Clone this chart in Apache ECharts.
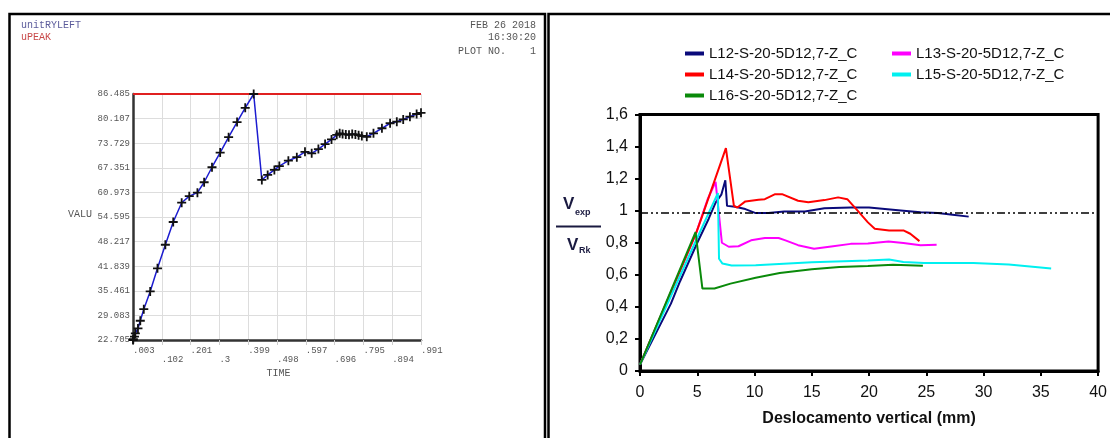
<!DOCTYPE html>
<html>
<head>
<meta charset="utf-8">
<script src="https://cdn.jsdelivr.net/npm/echarts@6/dist/echarts.min.js"></script>
<style>
  html, body { margin: 0; padding: 0; background: #fff; }
  #chart { width: 1110px; height: 438px; }
</style>
</head>
<body>
<div id="chart"></div>
<script>
// ---- left panel (ANSYS time history) ----
var timeTicks = ['.003', '.102', '.201', '.3', '.399', '.498', '.597', '.696', '.795', '.894', '.991'];
var valuTicks = ['22.705', '29.083', '35.461', '41.839', '48.217', '54.595', '60.973', '67.351', '73.729', '80.107', '86.485'];
var ryTime = [0.003, 0.004, 0.008, 0.011, 0.020, 0.028, 0.040, 0.062, 0.087, 0.114, 0.141, 0.170, 0.196, 0.224,
  0.247, 0.274, 0.302, 0.331, 0.360, 0.388, 0.417, 0.445, 0.465, 0.488, 0.505, 0.536, 0.565, 0.593, 0.616,
  0.639, 0.662, 0.684, 0.702, 0.712, 0.722, 0.733, 0.744, 0.755, 0.766, 0.777, 0.788, 0.805, 0.828, 0.857,
  0.885, 0.908, 0.930, 0.953, 0.976, 0.991];
var ryValu = [22.705, 22.9, 23.6, 24.4, 25.7, 27.7, 30.7, 35.3, 41.3, 47.4, 53.3, 58.3, 60.0, 60.9,
  63.6, 67.5, 71.3, 75.3, 79.2, 82.9, 86.485, 64.2, 65.5, 66.8, 67.8, 69.2, 70.1, 71.5, 71.1,
  72.2, 73.5, 74.7, 75.9, 76.3, 76.1, 76.0, 75.9, 76.1, 76.0, 75.8, 75.6, 75.4, 76.3, 77.6,
  78.9, 79.3, 79.9, 80.6, 81.3, 81.6];
var peakTime = [0.003, 0.991];
var peakValu = [86.485, 86.485];

// ---- right panel (V_exp / V_Rk vs displacement) ----
var names = ['L12-S-20-5D12,7-Z_C', 'L13-S-20-5D12,7-Z_C', 'L14-S-20-5D12,7-Z_C', 'L15-S-20-5D12,7-Z_C', 'L16-S-20-5D12,7-Z_C'];
var l12 = [[0, 0.04], [2.7, 0.42], [3.5, 0.56], [5, 0.8], [6.0, 0.95], [6.6, 1.05], [7.1, 1.1], [7.45, 1.19], [7.6, 1.03],
  [8.3, 1.025], [9.2, 1.01], [10.1, 0.985], [11.2, 0.985], [12.6, 0.995], [14.4, 0.995], [16.1, 1.015], [18.4, 1.02],
  [20, 1.02], [23, 1.0], [24.5, 0.99], [26, 0.985], [27.3, 0.975], [28.7, 0.963]];
var l13 = [[0, 0.04], [4.9, 0.86], [5.9, 1.07], [6.6, 1.18], [7.15, 0.8], [7.75, 0.775], [8.6, 0.778], [9.7, 0.815],
  [10.9, 0.83], [12.1, 0.83], [12.7, 0.815], [13.8, 0.785], [15.2, 0.763], [16.7, 0.777], [18.4, 0.793], [19.9, 0.795],
  [21.7, 0.808], [23, 0.798], [24.5, 0.785], [25.9, 0.788]];
var l14 = [[0, 0.04], [4.9, 0.86], [5.4, 0.96], [7.5, 1.39], [8.2, 1.03], [8.5, 1.02], [9.2, 1.058], [10.35, 1.068],
  [10.9, 1.072], [11.8, 1.103], [12.4, 1.103], [13.8, 1.062], [14.7, 1.052], [16.1, 1.066], [17.3, 1.083], [18.1, 1.072],
  [19, 1.0], [19.9, 0.927], [20.5, 0.887], [21.75, 0.877], [23, 0.877], [23.6, 0.856], [24.4, 0.81]];
var l15 = [[0, 0.04], [4.8, 0.8], [6.8, 1.11], [6.9, 0.70], [7.2, 0.67], [8, 0.658], [10.1, 0.659], [15, 0.678],
  [19.9, 0.689], [21.75, 0.695], [23, 0.68], [24.8, 0.674], [29.1, 0.674], [32.2, 0.665], [35.9, 0.64]];
var l16 = [[0, 0.04], [4.85, 0.866], [5.45, 0.514], [6.5, 0.515], [7.9, 0.545], [10.1, 0.582], [12.2, 0.611],
  [15, 0.634], [17.4, 0.649], [19.9, 0.655], [22.1, 0.663], [24.7, 0.657]];
var refLevel = 0.99;

var colors = ['#0a0a7a', '#ff00ff', '#ff0000', '#00f0f0', '#0a8a0a'];
var mono = "'Liberation Mono', 'DejaVu Sans Mono', monospace";
var sans = "'Liberation Sans', Arial, sans-serif";
var plus = 'path://M4,0h2v4h4v2h-4v4h-2v-4h-4v-2h4z';

function pairs(xs, ys) {
  return xs.map(function (x, i) { return [x, ys[i]]; });
}

var myChart = echarts.init(document.getElementById('chart'));

var legendText = { fontFamily: sans, fontSize: 15, lineHeight: 15, color: '#111' };

var option = {
  animation: false,
  backgroundColor: '#fff',
  grid: [
    { left: 133, top: 94, width: 288, height: 246 },
    { left: 640, top: 114.5, width: 465, height: 256.5, show: true, borderColor: '#000', borderWidth: 3, backgroundColor: 'transparent' }
  ],
  legend: [
    {
      data: [names[0], names[2], names[4]], orient: 'vertical', left: 680, top: 41,
      icon: 'rect', itemWidth: 19, itemHeight: 4, itemGap: 6, textStyle: legendText
    },
    {
      data: [names[1], names[3]], orient: 'vertical', left: 887, top: 41,
      icon: 'rect', itemWidth: 19, itemHeight: 4, itemGap: 6, textStyle: legendText
    }
  ],
  xAxis: [
    {
      gridIndex: 0, type: 'value', min: 0.003, max: 0.991, interval: 0.0988,
      axisLine: { lineStyle: { color: '#333', width: 2.5 } },
      axisTick: { show: true, length: 5, lineStyle: { color: '#ccc' } },
      splitLine: { show: true, lineStyle: { color: '#ddd', width: 1 } },
      axisLabel: {
        align: 'left', margin: 6, fontFamily: mono, fontSize: 9, color: '#555', lineHeight: 9,
        formatter: function (v) {
          var i = Math.round((v - 0.003) / 0.0988);
          return i % 2 === 0 ? timeTicks[i] : '\n' + timeTicks[i];
        }
      }
    },
    {
      gridIndex: 1, type: 'value', min: 0, max: 40, interval: 5,
      name: 'Deslocamento vertical (mm)', nameLocation: 'middle', nameGap: 40,
      nameTextStyle: { fontFamily: sans, fontSize: 16, fontWeight: 'bold', color: '#111' },
      axisLine: { lineStyle: { color: '#000', width: 3 } },
      axisTick: { show: true, length: 5, lineStyle: { color: '#000', width: 2 } },
      splitLine: { show: false },
      axisLabel: { margin: 14, fontFamily: sans, fontSize: 16, color: '#111' }
    }
  ],
  yAxis: [
    {
      gridIndex: 0, type: 'value', min: 22.705, max: 86.485, interval: 6.378,
      axisLine: { show: true, lineStyle: { color: '#333', width: 2.5 } },
      axisTick: { show: false },
      splitLine: { show: true, lineStyle: { color: '#ddd', width: 1 } },
      axisLabel: {
        margin: 3, fontFamily: mono, fontSize: 9, color: '#555',
        formatter: function (v) {
          return valuTicks[Math.round((v - 22.705) / 6.378)];
        }
      }
    },
    {
      gridIndex: 1, type: 'value', min: 0, max: 1.6, interval: 0.2,
      axisLine: { show: true, lineStyle: { color: '#000', width: 3 } },
      axisTick: { show: true, length: 5, lineStyle: { color: '#000', width: 2 } },
      splitLine: { show: false },
      axisLabel: {
        margin: 12, fontFamily: sans, fontSize: 16, color: '#111',
        formatter: function (v) { return String(Math.round(v * 10) / 10).replace('.', ','); }
      }
    }
  ],
  graphic: [
    // panel frames
    { type: 'rect', shape: { x: 9.5, y: 14, width: 535.5, height: 440 }, style: { fill: 'none', stroke: '#000', lineWidth: 2.5 }, z: 100 },
    { type: 'rect', shape: { x: 548.5, y: 14, width: 580, height: 440 }, style: { fill: 'none', stroke: '#000', lineWidth: 2.5 }, z: 100 },
    // ANSYS header
    { type: 'text', x: 21, y: 25, style: { text: 'unitRYLEFT', font: '10px ' + mono, fill: '#5b5b9b', verticalAlign: 'middle' } },
    { type: 'text', x: 21, y: 37.5, style: { text: 'uPEAK', font: '10px ' + mono, fill: '#c84848', verticalAlign: 'middle' } },
    { type: 'text', x: 536, y: 25, style: { text: 'FEB 26 2018', font: '10px ' + mono, fill: '#555', align: 'right', verticalAlign: 'middle' } },
    { type: 'text', x: 536, y: 37.5, style: { text: '16:30:20', font: '10px ' + mono, fill: '#555', align: 'right', verticalAlign: 'middle' } },
    { type: 'text', x: 536, y: 51.5, style: { text: 'PLOT NO.    1', font: '10px ' + mono, fill: '#555', align: 'right', verticalAlign: 'middle' } },
    { type: 'text', x: 80, y: 214, style: { text: 'VALU', font: '10px ' + mono, fill: '#555', align: 'center', verticalAlign: 'middle' } },
    { type: 'text', x: 278.5, y: 373, style: { text: 'TIME', font: '10px ' + mono, fill: '#555', align: 'center', verticalAlign: 'middle' } },
    // V_exp / V_Rk
    { type: 'text', x: 563, y: 204, style: { text: 'V', font: 'bold 17px ' + sans, fill: '#1a1a40', verticalAlign: 'middle' } },
    { type: 'text', x: 575, y: 213, style: { text: 'exp', font: 'bold 9px ' + sans, fill: '#1a1a40', verticalAlign: 'middle' } },
    { type: 'line', shape: { x1: 556, y1: 226.5, x2: 601, y2: 226.5 }, style: { stroke: '#1a1a40', lineWidth: 2 } },
    { type: 'text', x: 567, y: 245, style: { text: 'V', font: 'bold 17px ' + sans, fill: '#1a1a40', verticalAlign: 'middle' } },
    { type: 'text', x: 579, y: 251, style: { text: 'Rk', font: 'bold 9px ' + sans, fill: '#1a1a40', verticalAlign: 'middle' } }
  ],
  series: [
    {
      name: 'uPEAK', type: 'line', xAxisIndex: 0, yAxisIndex: 0,
      data: pairs(peakTime, peakValu), showSymbol: false,
      lineStyle: { color: '#e02020', width: 2 }, z: 3
    },
    {
      name: 'unitRYLEFT', type: 'line', xAxisIndex: 0, yAxisIndex: 0,
      data: pairs(ryTime, ryValu), symbol: plus, symbolSize: 9,
      itemStyle: { color: '#111' },
      lineStyle: { color: '#1c1cd0', width: 1.5 }, z: 4
    },
    {
      name: names[0], type: 'line', xAxisIndex: 1, yAxisIndex: 1, data: l12, showSymbol: false,
      itemStyle: { color: colors[0] }, lineStyle: { color: colors[0], width: 2 },
      markLine: {
        silent: true, symbol: ['none', 'none'], label: { show: false },
        lineStyle: { color: '#000', width: 1.5, type: [8, 3, 2, 3, 2, 3] },
        data: [{ yAxis: refLevel }]
      }
    },
    {
      name: names[1], type: 'line', xAxisIndex: 1, yAxisIndex: 1, data: l13, showSymbol: false,
      itemStyle: { color: colors[1] }, lineStyle: { color: colors[1], width: 2 }
    },
    {
      name: names[2], type: 'line', xAxisIndex: 1, yAxisIndex: 1, data: l14, showSymbol: false,
      itemStyle: { color: colors[2] }, lineStyle: { color: colors[2], width: 2 }
    },
    {
      name: names[3], type: 'line', xAxisIndex: 1, yAxisIndex: 1, data: l15, showSymbol: false,
      itemStyle: { color: colors[3] }, lineStyle: { color: colors[3], width: 2 }
    },
    {
      name: names[4], type: 'line', xAxisIndex: 1, yAxisIndex: 1, data: l16, showSymbol: false,
      itemStyle: { color: colors[4] }, lineStyle: { color: colors[4], width: 2 }
    }
  ]
};

myChart.setOption(option);
</script>
</body>
</html>
